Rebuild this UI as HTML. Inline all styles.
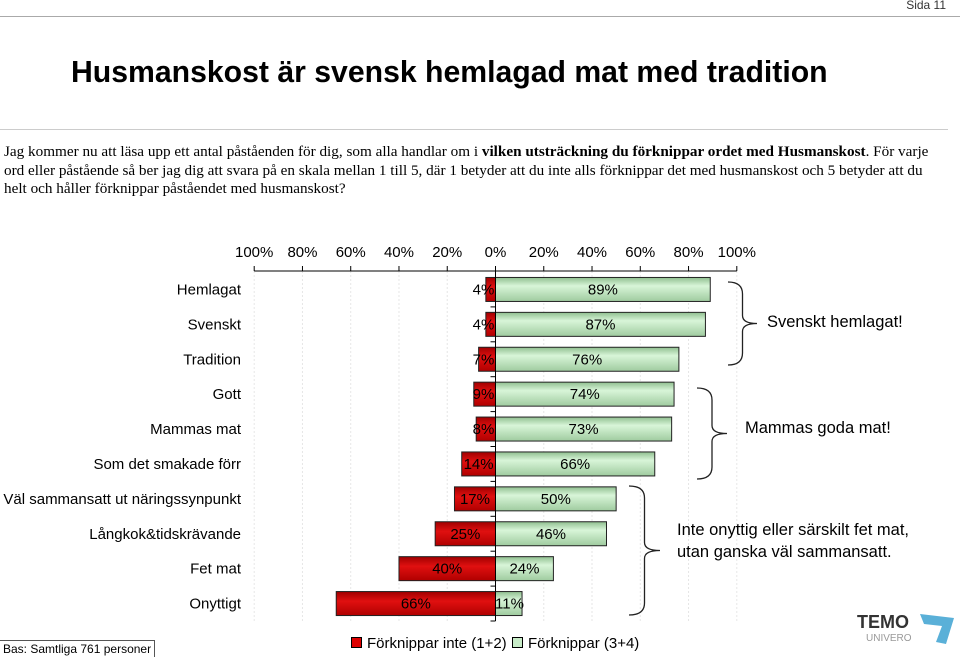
<!DOCTYPE html>
<html><head><meta charset="utf-8"><style>
body{margin:0;background:#fff;}
#wrap{position:relative;width:960px;height:657px;overflow:hidden;font-family:"Liberation Sans",sans-serif;}
.abs{position:absolute;white-space:nowrap;}
</style></head><body>
<div id="wrap">
<div class="abs" style="right:14px;top:-2px;font-size:12px;color:#333;">Sida 11</div>
<div class="abs" style="left:0;top:16px;width:960px;height:1px;background:#aaa;"></div>
<div class="abs" style="left:71px;top:56px;font-size:30.2px;font-weight:bold;color:#000;">Husmanskost är svensk hemlagad mat med tradition</div>
<div class="abs" style="left:0;top:129px;width:948px;height:1px;background:#ccc;"></div>
<div style="position:absolute;left:4px;top:143px;width:945px;font-family:'Liberation Serif',serif;font-size:15.2px;line-height:18.5px;color:#000;">Jag kommer nu att läsa upp ett antal påståenden för dig, som alla handlar om i <b>vilken utsträckning du förknippar ordet med Husmanskost</b>. För varje ord eller påstående så ber jag dig att svara på en skala mellan 1 till 5, där 1 betyder att du inte alls förknippar det med husmanskost och 5 betyder att du helt och håller förknippar påståendet med husmanskost?</div>
<svg id="chart" width="960" height="657" style="position:absolute;left:0;top:0;">
<defs>
<linearGradient id="gg" x1="0" y1="0" x2="0" y2="1"><stop offset="0" stop-color="#8fbf8f"/><stop offset="0.35" stop-color="#d8f5d8"/><stop offset="1" stop-color="#9fcb9f"/></linearGradient>
<linearGradient id="rg" x1="0" y1="0" x2="0" y2="1"><stop offset="0" stop-color="#a00000"/><stop offset="0.4" stop-color="#e01010"/><stop offset="1" stop-color="#b00000"/></linearGradient>
</defs>
<g id="grid"></g><g id="bars"></g><g id="axis"></g>
</svg>
<div class="abs" style="left:767px;top:313px;font-size:16.5px;">Svenskt hemlagat!</div>
<div class="abs" style="left:745px;top:419px;font-size:16.5px;">Mammas goda mat!</div>
<div class="abs" style="left:677px;top:519px;font-size:16.5px;line-height:22px;">Inte onyttig eller särskilt fet mat,<br>utan ganska väl sammansatt.</div>
<div class="abs" style="left:0;top:640px;font-size:12px;padding:1px 3px;border:1px solid #555;border-left:none;border-bottom:none;">Bas: Samtliga 761 personer</div>
<div class="abs" style="left:351px;top:635px;font-size:15px;"><span style="display:inline-block;width:9px;height:9px;background:#d00;border:1px solid #000;margin-right:5px;"></span>Förknippar inte (1+2)</div>
<div class="abs" style="left:512px;top:635px;font-size:15px;"><span style="display:inline-block;width:9px;height:9px;background:#c8ecc8;border:1px solid #000;margin-right:5px;"></span>Förknippar (3+4)</div>
<div class="abs" style="left:857px;top:612px;font-size:18px;font-weight:bold;color:#333;">TEMO</div>
<div class="abs" style="left:866px;top:633px;font-size:10px;color:#999;">UNIVERO</div>
<svg class="abs" style="left:918px;top:612px;" width="38" height="34"><polygon points="2,2 36,6 28,32 18,30 24,14 6,12" fill="#5ab0d8"/></svg>
</div>
<script>
const categories=["Hemlagat","Svenskt","Tradition","Gott","Mammas mat","Som det smakade förr","Väl sammansatt ut näringssynpunkt","Långkok&tidskrävande","Fet mat","Onyttigt"];
const negValues=[4,4,7,9,8,14,17,25,40,66];
const posValues=[89,87,76,74,73,66,50,46,24,11];
const tickValues=[-100,-80,-60,-40,-20,0,20,40,60,80,100];
const NS="http://www.w3.org/2000/svg";
const x0=495.5, pxPer=2.413, axisY=271, rowTop=272, rowH=34.9, barH=24;
const xs=v=>x0+v*pxPer;
const yc=i=>rowTop+rowH*(i+0.5);
function mk(tag,attrs,parent){const e=document.createElementNS(NS,tag);for(const k in attrs)e.setAttribute(k,attrs[k]);parent.appendChild(e);return e;}
const grid=document.getElementById('grid'),bars=document.getElementById('bars'),axis=document.getElementById('axis');
tickValues.forEach(t=>{
  if(t!==0){const g=mk('line',{x1:xs(t),x2:xs(t),y1:axisY,y2:rowTop+rowH*categories.length,stroke:'#e6e6e6','stroke-dasharray':'2,2'},grid);
  
  }
  const tk=mk('line',{x1:xs(t),x2:xs(t),y1:axisY,y2:axisY-5,stroke:'#000'},axis);
  
  
  const tx=mk('text',{x:xs(t),y:257,'text-anchor':'middle','font-size':'15','font-family':'Liberation Sans, sans-serif'},axis);
  tx.textContent=Math.abs(t)+'%';
  
  
});
const ax=mk('line',{x1:xs(-100),x2:xs(100),y1:axisY,y2:axisY,stroke:'#000'},axis);


const za=mk('line',{x1:x0,x2:x0,y1:axisY,y2:rowTop+rowH*categories.length,stroke:'#000'},axis);


categories.forEach((c,i)=>{
  const y=yc(i);
  const nb=mk('rect',{x:xs(-negValues[i]),y:y-barH/2,width:negValues[i]*pxPer,height:barH,fill:'url(#rg)',stroke:'#222','stroke-width':1},bars);
  
  
  const pb=mk('rect',{x:x0,y:y-barH/2,width:posValues[i]*pxPer,height:barH,fill:'url(#gg)',stroke:'#222','stroke-width':1},bars);
  
  
  const nl=mk('text',{x:negValues[i]<10?x0-12:xs(-negValues[i]/2),y:y+5,'text-anchor':'middle','font-size':'15','font-family':'Liberation Sans, sans-serif',fill:'#000'},bars);
  nl.textContent=negValues[i]+'%';
  
  
  const pl=mk('text',{x:posValues[i]<15?x0+14:xs(posValues[i]/2),y:y+5,'text-anchor':'middle','font-size':'15','font-family':'Liberation Sans, sans-serif',fill:'#000'},bars);
  pl.textContent=posValues[i]+'%';
  
  
  const cl=mk('text',{x:241,y:y+5,'text-anchor':'end','font-size':'15','font-family':'Liberation Sans, sans-serif'},axis);
  cl.textContent=c;
  
  
  const rt=mk('line',{x1:x0-5,x2:x0,y1:rowTop+rowH*(i+1),y2:rowTop+rowH*(i+1),stroke:'#000'},axis);
  
  
});
function brace(x1,x2,y1,y2,name){
  const ym=(y1+y2)/2,xm=(x1+x2)/2;
  const d=`M${x1},${y1} Q${xm},${y1} ${xm},${y1+12} L${xm},${ym-8} Q${xm},${ym} ${x2},${ym} Q${xm},${ym} ${xm},${ym+8} L${xm},${y2-12} Q${xm},${y2} ${x1},${y2}`;
  const p=mk('path',{d:d,fill:'none',stroke:'#222','stroke-width':1.3},axis);
  
  
}
brace(728,757,282,365,'bracket-svenskt');
brace(697,727,388,479,'bracket-mammas');
brace(629,660,486,615,'bracket-inte-onyttig');
</script>
</body></html>
